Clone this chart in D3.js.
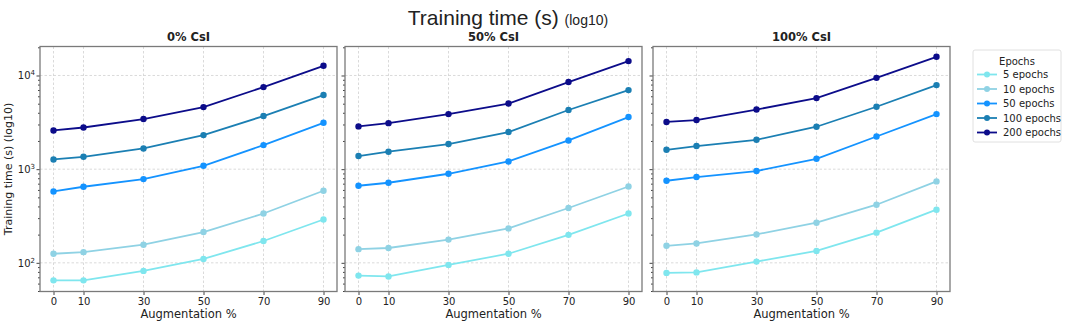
<!DOCTYPE html>
<meta charset="utf-8">
<script src="https://d3js.org/d3.v7.min.js"></script>
<style>
body { margin: 0; background: #fff; }
text { font-family: "DejaVu Sans", sans-serif; fill: #222; }
.grid line { stroke: #d0d0d0; stroke-width: 0.8px; stroke-dasharray: 2.5,2; }
.axis path { display: none; }
.axis line { stroke: #444; }
</style>
<body>
<div id="chart"></div>
</body>
<script>
var augmentation = [0, 10, 30, 50, 70, 90];
var panelTitles = ["0% CsI", "50% CsI", "100% CsI"];
var epochLabels = ["5 epochs", "10 epochs", "50 epochs", "100 epochs", "200 epochs"];
var epochColors = ["#7fe6ee", "#8fd2e4", "#1493ff", "#1b7fb3", "#0c0c8a"];

// training time (s), one row per epoch setting
var csi0 = [
  [65, 65, 82, 110, 171, 290],
  [125, 130, 156, 213, 336, 588],
  [578, 649, 783, 1086, 1806, 3125],
  [1270, 1355, 1663, 2310, 3690, 6180],
  [2590, 2785, 3430, 4600, 7520, 12700]
];
var csi50 = [
  [73, 71.5, 95, 125, 199, 336],
  [140, 144, 177, 233, 385, 653],
  [665, 716, 893, 1208, 2025, 3600],
  [1380, 1535, 1855, 2490, 4280, 6980],
  [2860, 3100, 3870, 5020, 8510, 14250]
];
var csi100 = [
  [78, 79, 103, 134, 210, 369],
  [152, 161, 201, 268, 417, 740],
  [752, 824, 955, 1291, 2231, 3870],
  [1610, 1764, 2059, 2838, 4640, 7900],
  [3190, 3345, 4330, 5740, 9440, 15840]
];
var panelData = [csi0, csi50, csi100];
var xTicks = [0, 10, 30, 50, 70, 90];
var yMajor = [100, 1000, 10000];

var W = 1065, H = 324;
var panelLeft = [40, 345, 653], panelW = 297;
var plotTop = 46.5, plotBottom = 291.5;

var svg = d3.select("#chart").append("svg")
    .attr("width", W).attr("height", H);

var x = d3.scaleLinear().domain([-4.5, 94.5]).range([0, panelW]);
var y = d3.scaleLog().domain([49.4, 20400]).range([plotBottom, plotTop]);

var minor = [];
[10, 100, 1000, 10000].forEach(function(dec) {
  for (var k = 2; k <= 9; k++) {
    var v = k * dec;
    if (v > y.domain()[0] && v < y.domain()[1]) minor.push(v);
  }
});

function supLabel(sel, d) {
  var e = Math.round(Math.log10(d));
  sel.text("10");
  sel.append("tspan").attr("dy", "-0.55em").attr("font-size", "7px").text(e);
}

panelData.forEach(function(rows, p) {
  var g = svg.append("g").attr("transform", "translate(" + panelLeft[p] + ",0)");

  // grid
  var grid = g.append("g").attr("class", "grid");
  grid.selectAll(".gx").data(xTicks).enter().append("line")
      .attr("x1", function(d) { return x(d); }).attr("x2", function(d) { return x(d); })
      .attr("y1", plotTop).attr("y2", plotBottom);
  grid.selectAll(".gy").data(yMajor).enter().append("line")
      .attr("x1", 0).attr("x2", panelW)
      .attr("y1", function(d) { return y(d); }).attr("y2", function(d) { return y(d); });

  // axes
  var xa = g.append("g").attr("class", "axis")
      .attr("transform", "translate(0," + plotBottom + ")")
      .call(d3.axisBottom(x).tickValues(xTicks).tickSize(3.5).tickPadding(3).tickFormat(d3.format("d")));
  xa.selectAll("text").attr("font-size", "10px").attr("fill", "#222");

  var ya = g.append("g").attr("class", "axis")
      .call(d3.axisLeft(y).tickValues(yMajor).tickSize(3.5).tickPadding(3).tickFormat(""));
  g.append("g").attr("class", "axis")
      .call(d3.axisLeft(y).tickValues(minor).tickSize(2).tickFormat(""));
  if (p === 0) {
    ya.selectAll(".tick").append("text")
      .attr("x", -5).attr("dy", "0.32em").attr("text-anchor", "end")
      .attr("font-size", "10px").attr("fill", "#222")
      .each(function(d) { supLabel(d3.select(this), d); });
  }

  var line = d3.line()
      .x(function(d, i) { return x(augmentation[i]); })
      .y(function(d) { return y(d); });

  rows.forEach(function(vals, s) {
    g.append("path").datum(vals)
        .attr("d", line).attr("fill", "none")
        .attr("stroke", epochColors[s]).attr("stroke-width", 1.8);
    g.selectAll(".pt" + s).data(vals).enter().append("circle")
        .attr("cx", function(d, i) { return x(augmentation[i]); })
        .attr("cy", function(d) { return y(d); })
        .attr("r", 3.2).attr("fill", epochColors[s]);
  });

  // frame
  g.append("rect").attr("x", 0).attr("y", plotTop)
      .attr("width", panelW).attr("height", plotBottom - plotTop)
      .attr("fill", "none").attr("stroke", "#7a7a7a").attr("stroke-width", 1.3);

  g.append("text").attr("x", panelW / 2).attr("y", 41)
      .attr("text-anchor", "middle").attr("font-size", "11.5px").attr("font-weight", "bold")
      .text(panelTitles[p]);
  g.append("text").attr("x", panelW / 2).attr("y", 318)
      .attr("text-anchor", "middle").attr("font-size", "11.5px")
      .text("Augmentation %");
});

// y label
svg.append("text")
    .attr("transform", "translate(12," + ((plotTop + plotBottom) / 2) + ") rotate(-90)")
    .attr("text-anchor", "middle").attr("font-size", "11px")
    .text("Training time (s) (log10)");

// main title
var title = svg.append("text").attr("x", 508).attr("y", 25)
    .attr("text-anchor", "middle")
    .style("font-family", "'Liberation Sans', Arial, sans-serif");
title.append("tspan").attr("font-size", "21px").text("Training time (s) ");
title.append("tspan").attr("font-size", "14px").text("(log10)");

// legend
var lg = svg.append("g").attr("transform", "translate(973,50)");
lg.append("rect").attr("width", 88).attr("height", 92)
    .attr("fill", "#fff").attr("stroke", "#d8d8d8").attr("stroke-width", 0.8).attr("rx", 2);
lg.append("text").attr("x", 44).attr("y", 15).attr("text-anchor", "middle")
    .attr("font-size", "10px").text("Epochs");
var items = lg.selectAll(".item").data(epochLabels).enter().append("g")
    .attr("transform", function(d, i) { return "translate(0," + (24.5 + i * 14.5) + ")"; });
items.append("line").attr("x1", 4).attr("x2", 24)
    .attr("stroke", function(d, i) { return epochColors[i]; }).attr("stroke-width", 1.8);
items.append("circle").attr("cx", 14).attr("r", 3)
    .attr("fill", function(d, i) { return epochColors[i]; });
items.append("text").attr("x", 30).attr("dy", "0.35em")
    .attr("font-size", "10px").text(function(d) { return d; });
</script>
